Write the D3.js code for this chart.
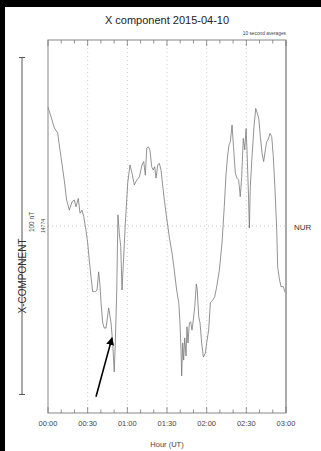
<!DOCTYPE html>
<html>
<head>
<meta charset="utf-8">
<script src="https://cdn.jsdelivr.net/npm/d3@7"></script>
<style>
  body { margin: 0; background: #fff; }
  svg { display: block; font-family: "Liberation Sans", Arial, sans-serif; }
</style>
</head>
<body>
<div id="chart"></div>
<script>
// minutes after 00:00 UT, X component (nT)
const minutes = [0, 2.3, 4.8, 7.3, 9.8, 12.3, 14.1, 16.1, 18.2, 19.9, 21.2, 22.9, 24.2, 25.7, 27.0, 28.7,
  30.0, 31.2, 32.5, 33.8, 35.8, 37.1, 38.3, 39.3, 40.1, 41.4, 42.6, 43.9, 45.9, 47.7, 48.9, 50.1,
  50.9, 52.0, 52.9, 53.9, 55.0, 56.0, 57.0, 58.5, 60.3, 62.0, 63.5, 65.3, 67.1, 69.1, 71.1, 72.4,
  73.6, 74.7, 75.9, 77.1, 78.4, 79.6, 80.7, 81.7, 83.0, 84.2, 85.5, 86.8, 88.0, 89.6, 91.7, 93.8,
  95.5, 97.3, 98.9, 99.8, 100.6, 101.1, 101.9, 102.6, 103.4, 104.4, 105.1, 105.9, 106.9, 107.9, 108.9, 109.9,
  111.0, 112.2, 112.9, 114.0, 115.0, 116.2, 117.5, 119.0, 120.0, 121.5, 122.8, 124.6, 126.1, 127.6, 129.6, 131.6,
  133.3, 134.6, 135.9, 136.9, 137.9, 139.2, 140.3, 141.7, 142.9, 144.2, 145.4, 146.5, 147.7, 148.8, 149.8, 150.5,
  151.5, 152.3, 153.0, 154.3, 155.8, 157.1, 158.3, 159.4, 160.6, 161.9, 163.1, 164.4, 165.4, 166.6, 167.9, 169.2,
  170.4, 171.7, 173.0, 173.7, 174.9, 176.2, 178.0, 180];
const xValues = [14809.3, 14806.4, 14803.1, 14801.6, 14794.6, 14787.6, 14781.7, 14778.7, 14781.2, 14781.7, 14779.7, 14782.2, 14777.8, 14778.7, 14776.8, 14772.8,
  14769.0, 14763.9, 14759.0, 14754.5, 14754.5, 14755.0, 14760.4, 14756.5, 14751.2, 14745.2, 14743.7, 14743.7, 14749.7, 14745.2, 14739.3, 14730.7,
  14739.3, 14755.0, 14777.3, 14771.9, 14767.9, 14755.0, 14763.0, 14774.9, 14786.8, 14792.1, 14789.7, 14786.2, 14787.6, 14788.6, 14792.1, 14793.1,
  14789.1, 14797.1, 14797.5, 14796.6, 14791.6, 14790.6, 14791.6, 14788.2, 14792.1, 14792.6, 14790.6, 14785.7, 14781.7, 14776.8, 14770.8, 14766.0,
  14760.9, 14755.0, 14751.2, 14745.2, 14737.2, 14729.5, 14739.3, 14734.2, 14740.8, 14735.4, 14744.1, 14739.3, 14745.2, 14745.6, 14743.1, 14746.1,
  14750.1, 14756.8, 14755.0, 14747.1, 14745.2, 14739.3, 14735.1, 14736.3, 14739.3, 14743.1, 14751.2, 14752.0, 14753.0, 14756.0, 14760.9, 14769.0,
  14779.7, 14789.1, 14795.1, 14798.0, 14799.0, 14804.0, 14797.5, 14789.6, 14788.2, 14787.6, 14782.7, 14788.6, 14800.0, 14796.6, 14802.9, 14796.6,
  14784.7, 14773.4, 14785.7, 14794.6, 14803.5, 14808.9, 14807.4, 14806.0, 14800.5, 14795.6, 14793.1, 14796.6, 14799.0, 14799.7, 14801.5, 14800.5,
  14794.6, 14784.7, 14772.8, 14761.9, 14758.5, 14756.0, 14756.0, 14753.5];

const baseline = 14774;
const scaleBarNT = 100;
const majorTicks = [0, 30, 60, 90, 120, 150, 180];
const tickLabels = ["00:00", "00:30", "01:00", "01:30", "02:00", "02:30", "03:00"];
const minorTicks = d3.range(0, 181, 10);
// arrow annotation: [minutes, nT] of tail and tip
const arrowTail = [36.3, 14723.3];
const arrowTip = [48.4, 14740.8];

const width = 321, height = 451;
const margin = { top: 40, right: 35, bottom: 38, left: 48 };
const innerWidth = width - margin.left - margin.right,
  innerHeight = height - margin.top - margin.bottom;

const svg = d3.select("#chart")
  .append("svg")
  .attr("width", width)
  .attr("height", height);

// black strips on top and left as in the scan
svg.append("rect").attr("x", 0).attr("y", 0).attr("width", width).attr("height", 7).attr("fill", "#000");
svg.append("rect").attr("x", 0).attr("y", 0).attr("width", 5).attr("height", height).attr("fill", "#000");

const x = d3.scaleLinear().domain([0, 180]).range([margin.left, margin.left + innerWidth]);
const y = d3.scaleLinear().domain([14718.5, 14829.2]).range([margin.top + innerHeight, margin.top]);

const yTop = margin.top, yBottom = margin.top + innerHeight;

// grid
svg.append("g")
  .selectAll("line")
  .data(majorTicks.slice(1, -1))
  .join("line")
  .attr("x1", (d) => x(d)).attr("x2", (d) => x(d))
  .attr("y1", yTop).attr("y2", yBottom)
  .attr("stroke", "#bbb").attr("stroke-width", 0.8)
  .attr("stroke-dasharray", "1,3");

svg.append("line")
  .attr("x1", x(0)).attr("x2", x(180))
  .attr("y1", y(baseline)).attr("y2", y(baseline))
  .attr("stroke", "#bbb").attr("stroke-width", 0.8)
  .attr("stroke-dasharray", "1,3");

// data line
const line = d3.line()
  .x((d) => x(d[0]))
  .y((d) => y(d[1]));

svg.append("path")
  .datum(d3.zip(minutes, xValues))
  .attr("fill", "none")
  .attr("stroke", "#777")
  .attr("stroke-width", 0.8)
  .attr("stroke-linejoin", "round")
  .attr("d", line);

// frame
svg.append("rect")
  .attr("x", x(0)).attr("y", yTop)
  .attr("width", innerWidth).attr("height", innerHeight)
  .attr("fill", "none").attr("stroke", "#888").attr("stroke-width", 1);
svg.append("line")
  .attr("x1", x(180)).attr("x2", x(180)).attr("y1", yTop).attr("y2", yBottom)
  .attr("stroke", "#aaa").attr("stroke-width", 2);

// ticks on top and bottom, pointing inwards
const tickLen = (d) => (d % 30 === 0 ? 6 : 3.5);
svg.append("g")
  .selectAll("line")
  .data(minorTicks)
  .join("line")
  .attr("x1", (d) => x(d)).attr("x2", (d) => x(d))
  .attr("y1", yBottom).attr("y2", (d) => yBottom - tickLen(d))
  .attr("stroke", "#777").attr("stroke-width", 0.8);
svg.append("g")
  .selectAll("line")
  .data(minorTicks)
  .join("line")
  .attr("x1", (d) => x(d)).attr("x2", (d) => x(d))
  .attr("y1", yTop).attr("y2", (d) => yTop + tickLen(d))
  .attr("stroke", "#777").attr("stroke-width", 0.8);

svg.append("g")
  .selectAll("text")
  .data(majorTicks)
  .join("text")
  .attr("x", (d) => x(d))
  .attr("y", yBottom + 13)
  .attr("text-anchor", "middle")
  .attr("font-size", 7.5)
  .attr("fill", "#444")
  .text((d, i) => tickLabels[i]);

svg.append("text")
  .attr("x", x(90))
  .attr("y", yBottom + 34)
  .attr("text-anchor", "middle")
  .attr("font-size", 7.5)
  .attr("fill", "#444")
  .text("Hour (UT)");

// titles
svg.append("text")
  .attr("x", 167)
  .attr("y", 24)
  .attr("text-anchor", "middle")
  .attr("font-size", 11)
  .attr("fill", "#222")
  .text("X component 2015-04-10");

svg.append("text")
  .attr("x", x(180))
  .attr("y", 35)
  .attr("text-anchor", "end")
  .attr("font-size", 4.8)
  .attr("fill", "#444")
  .text("10 second averages");

// baseline labels
svg.append("text")
  .attr("transform", `translate(45,${y(baseline)}) rotate(-90)`)
  .attr("text-anchor", "middle")
  .attr("font-size", 5)
  .attr("fill", "#444")
  .text(baseline);

svg.append("text")
  .attr("x", 294)
  .attr("y", y(baseline) + 4)
  .attr("font-size", 8)
  .attr("fill", "#333")
  .text("NUR");

// scale bar
const barX = 22;
const barTop = y(baseline + scaleBarNT / 2), barBottom = y(baseline - scaleBarNT / 2);
svg.append("line")
  .attr("x1", barX).attr("x2", barX).attr("y1", barTop).attr("y2", barBottom)
  .attr("stroke", "#555").attr("stroke-width", 1);
svg.append("g")
  .selectAll("line")
  .data([barTop, barBottom])
  .join("line")
  .attr("x1", barX - 3).attr("x2", barX + 3)
  .attr("y1", (d) => d).attr("y2", (d) => d)
  .attr("stroke", "#555").attr("stroke-width", 1);

svg.append("text")
  .attr("transform", `translate(34,${y(baseline) - 4}) rotate(-90)`)
  .attr("text-anchor", "middle")
  .attr("font-size", 6.5)
  .attr("fill", "#444")
  .text(scaleBarNT + " nT");

svg.append("text")
  .attr("transform", `translate(25.5,${y(baseline) + 50}) rotate(-90)`)
  .attr("text-anchor", "middle")
  .attr("font-size", 10)
  .attr("fill", "#333")
  .text("X-COMPONENT");

// arrow
const defs = svg.append("defs");
defs.append("marker")
  .attr("id", "head")
  .attr("viewBox", "0 0 10 10")
  .attr("refX", 9).attr("refY", 5)
  .attr("markerWidth", 5).attr("markerHeight", 5)
  .attr("markerUnits", "strokeWidth")
  .attr("orient", "auto")
  .append("path")
  .attr("d", "M0,0 L10,5 L0,10 Z")
  .attr("fill", "#000");

svg.append("line")
  .attr("x1", x(arrowTail[0])).attr("y1", y(arrowTail[1]))
  .attr("x2", x(arrowTip[0])).attr("y2", y(arrowTip[1]))
  .attr("stroke", "#000").attr("stroke-width", 1.6)
  .attr("marker-end", "url(#head)");
</script>
</body>
</html>
